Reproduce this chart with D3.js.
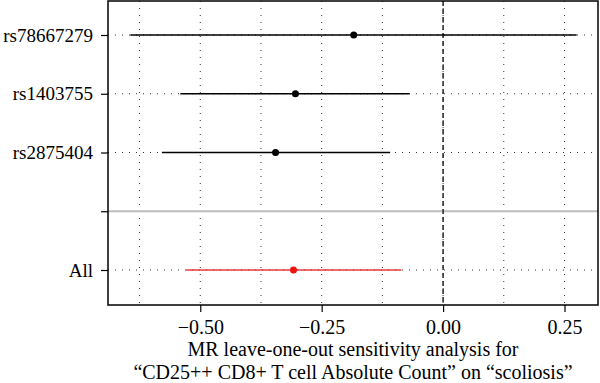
<!DOCTYPE html>
<html><head><meta charset="utf-8">
<script src="https://cdn.jsdelivr.net/npm/d3@7"></script>
<style>body{margin:0;background:#fff}svg{display:block}</style>
</head><body>
<script>
const snps = ["rs78667279", "rs1403755", "rs2875404", "", "All"];
const beta = [-0.184, -0.304, -0.345, null, -0.308];
const lower = [-0.644, -0.541, -0.579, null, -0.529];
const upper = [0.275, -0.069, -0.109, null, -0.086];
const xTicks = [-0.50, -0.25, 0.00, 0.25];
const xMinor = [-0.625, -0.375, -0.125, 0.125];
const titleLines = ["MR leave-one-out sensitivity analysis for", "\u201cCD25++ CD8+ T cell Absolute Count\u201d on \u201cscoliosis\u201d"];

const W = 600, H = 383;
const m = {left: 108, right: 2, top: 1, bottom: 78};
const svg = d3.select("body").append("svg").attr("width", W).attr("height", H);
const font = "'Liberation Serif', 'Times New Roman', serif";

const x = d3.scaleLinear().domain([-0.69, 0.319]).range([m.left, W - m.right]);
const y = d3.scalePoint().domain(d3.range(snps.length)).range([35, 270]);

const g = svg.append("g");
// grid
g.selectAll(".vg").data(xTicks.concat(xMinor)).join("line")
  .attr("x1", d => x(d)).attr("x2", d => x(d)).attr("y1", m.top).attr("y2", H - m.bottom)
  .attr("stroke", "#333").attr("stroke-width", 1).attr("stroke-dasharray", "1,6");
g.selectAll(".hg").data(d3.range(snps.length).filter(i => beta[i] !== null)).join("line")
  .attr("x1", m.left).attr("x2", W - m.right).attr("y1", i => y(i)).attr("y2", i => y(i))
  .attr("stroke", "#333").attr("stroke-width", 1).attr("stroke-dasharray", "1,6");
// divider
g.append("line").attr("x1", m.left).attr("x2", W - m.right).attr("y1", y(3)).attr("y2", y(3))
  .attr("stroke", "#bdbdbd").attr("stroke-width", 2);
// zero line
g.append("line").attr("x1", x(0)).attr("x2", x(0)).attr("y1", m.top).attr("y2", H - m.bottom)
  .attr("stroke", "#222").attr("stroke-width", 1.5).attr("stroke-dasharray", "5,3");
// CIs
const idx = d3.range(snps.length).filter(i => beta[i] !== null);
g.selectAll(".ci").data(idx).join("line")
  .attr("x1", i => x(lower[i])).attr("x2", i => x(upper[i])).attr("y1", i => y(i)).attr("y2", i => y(i))
  .attr("stroke", i => snps[i] === "All" ? "#e8383b" : "#000").attr("stroke-width", 1.5);
g.selectAll(".pt").data(idx).join("circle")
  .attr("cx", i => x(beta[i])).attr("cy", i => y(i)).attr("r", 3.5)
  .attr("fill", i => snps[i] === "All" ? "#ee1111" : "#000");
// panel border
svg.append("rect").attr("x", m.left).attr("y", m.top).attr("width", W - m.left - m.right)
  .attr("height", H - m.top - m.bottom).attr("fill", "none").attr("stroke", "#000").attr("stroke-width", 1.5);

// axes
const xAxis = svg.append("g").attr("transform", `translate(0,${H - m.bottom})`)
  .call(d3.axisBottom(x).tickValues(xTicks).tickFormat(d => d3.format(".2f")(d).replace("-", "\u2212")).tickSize(7).tickSizeOuter(0));
xAxis.select(".domain").remove();
xAxis.selectAll("line").attr("stroke", "#000").attr("stroke-width", 1.2);
xAxis.selectAll("text").attr("font-family", font).attr("font-size", 20).attr("fill", "#000")
  .attr("y", 0).attr("dy", 0).attr("transform", "translate(0,29)");

const yAxis = svg.append("g").attr("transform", `translate(${m.left},0)`)
  .call(d3.axisLeft(y).tickFormat(i => snps[i]).tickSize(7).tickSizeOuter(0));
yAxis.select(".domain").remove();
yAxis.selectAll("line").attr("stroke", "#000").attr("stroke-width", 1.2);
yAxis.selectAll("text").attr("font-family", font).attr("font-size", 19).attr("fill", "#000").attr("x", -15);

svg.selectAll(".title").data(titleLines).join("text")
  .attr("x", (m.left + W - m.right) / 2).attr("y", (d, i) => 356 + i * 23)
  .attr("text-anchor", "middle").attr("font-family", font).attr("font-size", 20).attr("fill", "#000")
  .text(d => d);
</script>
</body></html>
